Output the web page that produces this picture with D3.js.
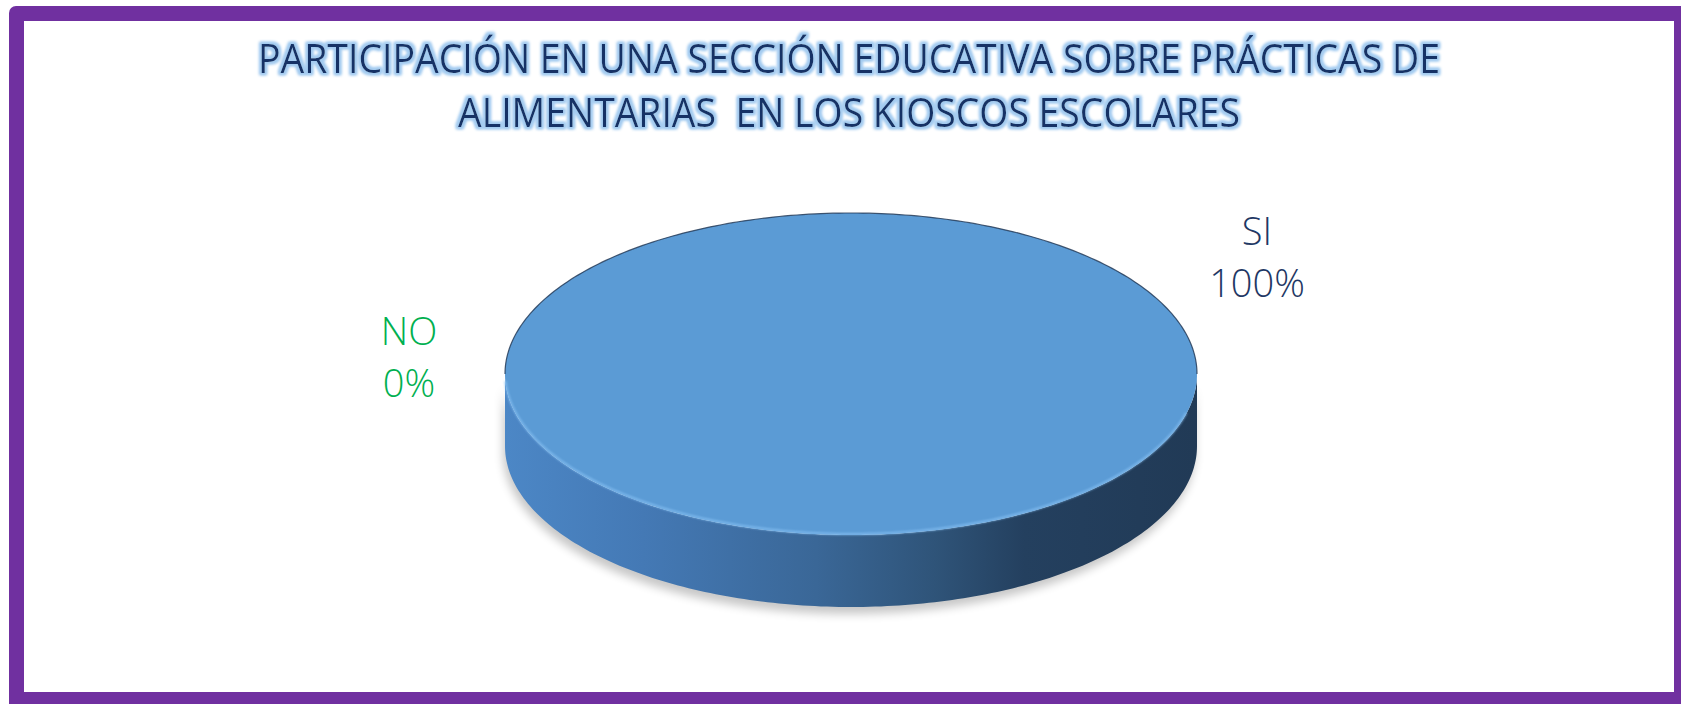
<!DOCTYPE html>
<html>
<head>
<meta charset="utf-8">
<script src="https://cdn.jsdelivr.net/npm/d3@7/dist/d3.min.js"></script>
<style>
  html, body { margin: 0; padding: 0; background: #ffffff; }
  svg { display: block; }
</style>
</head>
<body>
<svg id="chart" width="1681" height="704"></svg>
<script>
// Survey answers and their shares
const categories = ["SI", "NO"];
const values = [100, 0];
const percentLabels = ["100%", "0%"];
const labelColors = ["#1F3864", "#00B050"];
const titleLines = [
  "PARTICIPACIÓN EN UNA SECCIÓN EDUCATIVA SOBRE PRÁCTICAS DE",
  "ALIMENTARIAS  EN LOS KIOSCOS ESCOLARES"
];

const W = 1681, H = 704;
const svg = d3.select("#chart");
const defs = svg.append("defs");

// Frame: purple border with white canvas
svg.append("rect").attr("x", 0).attr("y", 0).attr("width", W).attr("height", H).attr("fill", "#ffffff");
svg.append("rect").attr("x", 9).attr("y", 6).attr("width", W + 20).attr("height", H + 20)
  .attr("rx", 7).attr("fill", "#7030A0");
svg.append("rect").attr("x", 24).attr("y", 21).attr("width", 1674 - 24).attr("height", 692 - 21)
  .attr("fill", "#ffffff");

// Glow behind the title letters
const glow = defs.append("filter").attr("id", "glow")
  .attr("x", "-5%").attr("y", "-30%").attr("width", "110%").attr("height", "160%");
glow.append("feMorphology").attr("in", "SourceAlpha").attr("operator", "dilate").attr("radius", 2.4).attr("result", "thick");
glow.append("feGaussianBlur").attr("in", "thick").attr("stdDeviation", 1.8).attr("result", "blur");
glow.append("feFlood").attr("flood-color", "#A3CBF0").attr("result", "col");
glow.append("feComposite").attr("in", "col").attr("in2", "blur").attr("operator", "in").attr("result", "halo");
const gm = glow.append("feMerge");
gm.append("feMergeNode").attr("in", "halo");
gm.append("feMergeNode").attr("in", "halo");
gm.append("feMergeNode").attr("in", "SourceGraphic");

const titleSpecs = [
  { y: 73, width: 1182 },
  { y: 127, width: 782 }
];
svg.append("g").attr("filter", "url(#glow)")
  .selectAll("text").data(titleLines).join("text")
  .attr("x", 849)
  .attr("y", (d, i) => titleSpecs[i].y)
  .attr("text-anchor", "middle")
  .attr("textLength", (d, i) => titleSpecs[i].width)
  .attr("lengthAdjust", "spacingAndGlyphs")
  .style("white-space", "pre")
  .attr("font-family", "'Open Sans', 'DejaVu Sans Condensed', sans-serif")
  .attr("font-size", 40)
  .attr("fill", "#183366")
  .text(d => d);

// 3D pie geometry
const cx = 851, cy = 374, rx = 346, ry = 161, depth = 72;
const pie = d3.pie().sort(null).value(d => d);
const arcs = pie(values);

const px = a => cx + rx * Math.sin(a);
const py = a => cy - ry * Math.cos(a);
const line = d3.line().x(d => d[0]).y(d => d[1]);

function topPoints(a0, a1) {
  const n = Math.max(2, Math.ceil((a1 - a0) / (Math.PI / 180)));
  return d3.range(n + 1).map(i => {
    const a = a0 + (a1 - a0) * i / n;
    return [px(a), py(a)];
  });
}
function topPath(d) {
  const pts = topPoints(d.startAngle, d.endAngle);
  const full = d.endAngle - d.startAngle >= 2 * Math.PI - 1e-6;
  return full ? line(pts) + "Z" : line([[cx, cy], ...pts]) + "Z";
}
function sidePath(d) {
  const a0 = Math.max(d.startAngle, Math.PI / 2);
  const a1 = Math.min(d.endAngle, 3 * Math.PI / 2);
  if (a1 <= a0) return null;
  const upper = topPoints(a0, a1);
  const lower = upper.slice().reverse().map(p => [p[0], p[1] + depth]);
  return line(upper.concat(lower)) + "Z";
}

// Side shading runs from a mid blue on the left to a deep navy on the right
const sideGrad = defs.append("linearGradient").attr("id", "sideGrad")
  .attr("gradientUnits", "userSpaceOnUse")
  .attr("x1", cx - rx).attr("x2", cx + rx).attr("y1", 0).attr("y2", 0);
[[0, "#4C87C6"], [0.2, "#4479B5"], [0.45, "#3A6797"], [0.62, "#2F5479"], [0.75, "#24405F"], [1, "#213A56"]]
  .forEach(s => sideGrad.append("stop").attr("offset", s[0]).attr("stop-color", s[1]));

const shadowF = defs.append("filter").attr("id", "shadow")
  .attr("x", "-10%").attr("y", "-10%").attr("width", "120%").attr("height", "130%");
shadowF.append("feGaussianBlur").attr("stdDeviation", 5);

const softF = defs.append("filter").attr("id", "soft")
  .attr("x", "-5%").attr("y", "-5%").attr("width", "110%").attr("height", "110%");
softF.append("feGaussianBlur").attr("stdDeviation", 1.2);

const drawn = arcs.filter(d => d.endAngle > d.startAngle);
const pieG = svg.append("g");

// Soft drop shadow under the disc
pieG.selectAll("path.shadow").data(drawn).join("path")
  .attr("class", "shadow")
  .attr("d", d => sidePath(d))
  .attr("transform", "translate(-2,7)")
  .attr("fill", "#000")
  .attr("opacity", 0.22)
  .attr("filter", "url(#shadow)");

pieG.selectAll("path.side").data(drawn).join("path")
  .attr("class", "side")
  .attr("d", d => sidePath(d))
  .attr("fill", "url(#sideGrad)");

pieG.selectAll("path.top").data(drawn).join("path")
  .attr("class", "top")
  .attr("d", d => topPath(d))
  .attr("fill", "#5B9BD5");

// Thin dark rim on the back edge and a light bevel on the front edge
pieG.selectAll("path.rimBack").data(drawn).join("path")
  .attr("class", "rimBack")
  .attr("d", d => {
    const a0 = Math.max(d.startAngle, 0), a1 = Math.min(d.endAngle, Math.PI / 2);
    const b0 = Math.max(d.startAngle, 3 * Math.PI / 2), b1 = Math.min(d.endAngle, 2 * Math.PI);
    let p = "";
    if (a1 > a0) p += line(topPoints(a0, a1));
    if (b1 > b0) p += line(topPoints(b0, b1));
    return p;
  })
  .attr("fill", "none").attr("stroke", "#1E3350").attr("stroke-width", 1.2).attr("opacity", 0.8);

pieG.selectAll("path.bevel").data(drawn).join("path")
  .attr("class", "bevel")
  .attr("d", d => {
    const a0 = Math.max(d.startAngle, Math.PI / 2 + 0.25), a1 = Math.min(d.endAngle, 3 * Math.PI / 2 - 0.05);
    return a1 > a0 ? line(topPoints(a0, a1).map(p => [p[0], p[1] - 1])) : null;
  })
  .attr("fill", "none").attr("stroke", "#86C0F2").attr("stroke-width", 2)
  .attr("opacity", 0.85).attr("filter", "url(#soft)");

// Category labels with their percentages
const labelPos = [[1257, 245], [409, 345]];
const labels = svg.append("g").selectAll("text").data(categories).join("text")
  .attr("x", (d, i) => labelPos[i][0])
  .attr("y", (d, i) => labelPos[i][1])
  .attr("text-anchor", "middle")
  .attr("font-family", "'Open Sans', 'Lato', sans-serif")
  .attr("font-weight", 300)
  .attr("font-size", 38)
  .attr("fill", (d, i) => labelColors[i]);
labels.append("tspan").attr("x", (d, i) => labelPos[i][0]).text(d => d);
labels.append("tspan").attr("x", (d, i) => labelPos[i][0]).attr("dy", 52).text((d, i) => percentLabels[i]);
</script>
</body>
</html>
